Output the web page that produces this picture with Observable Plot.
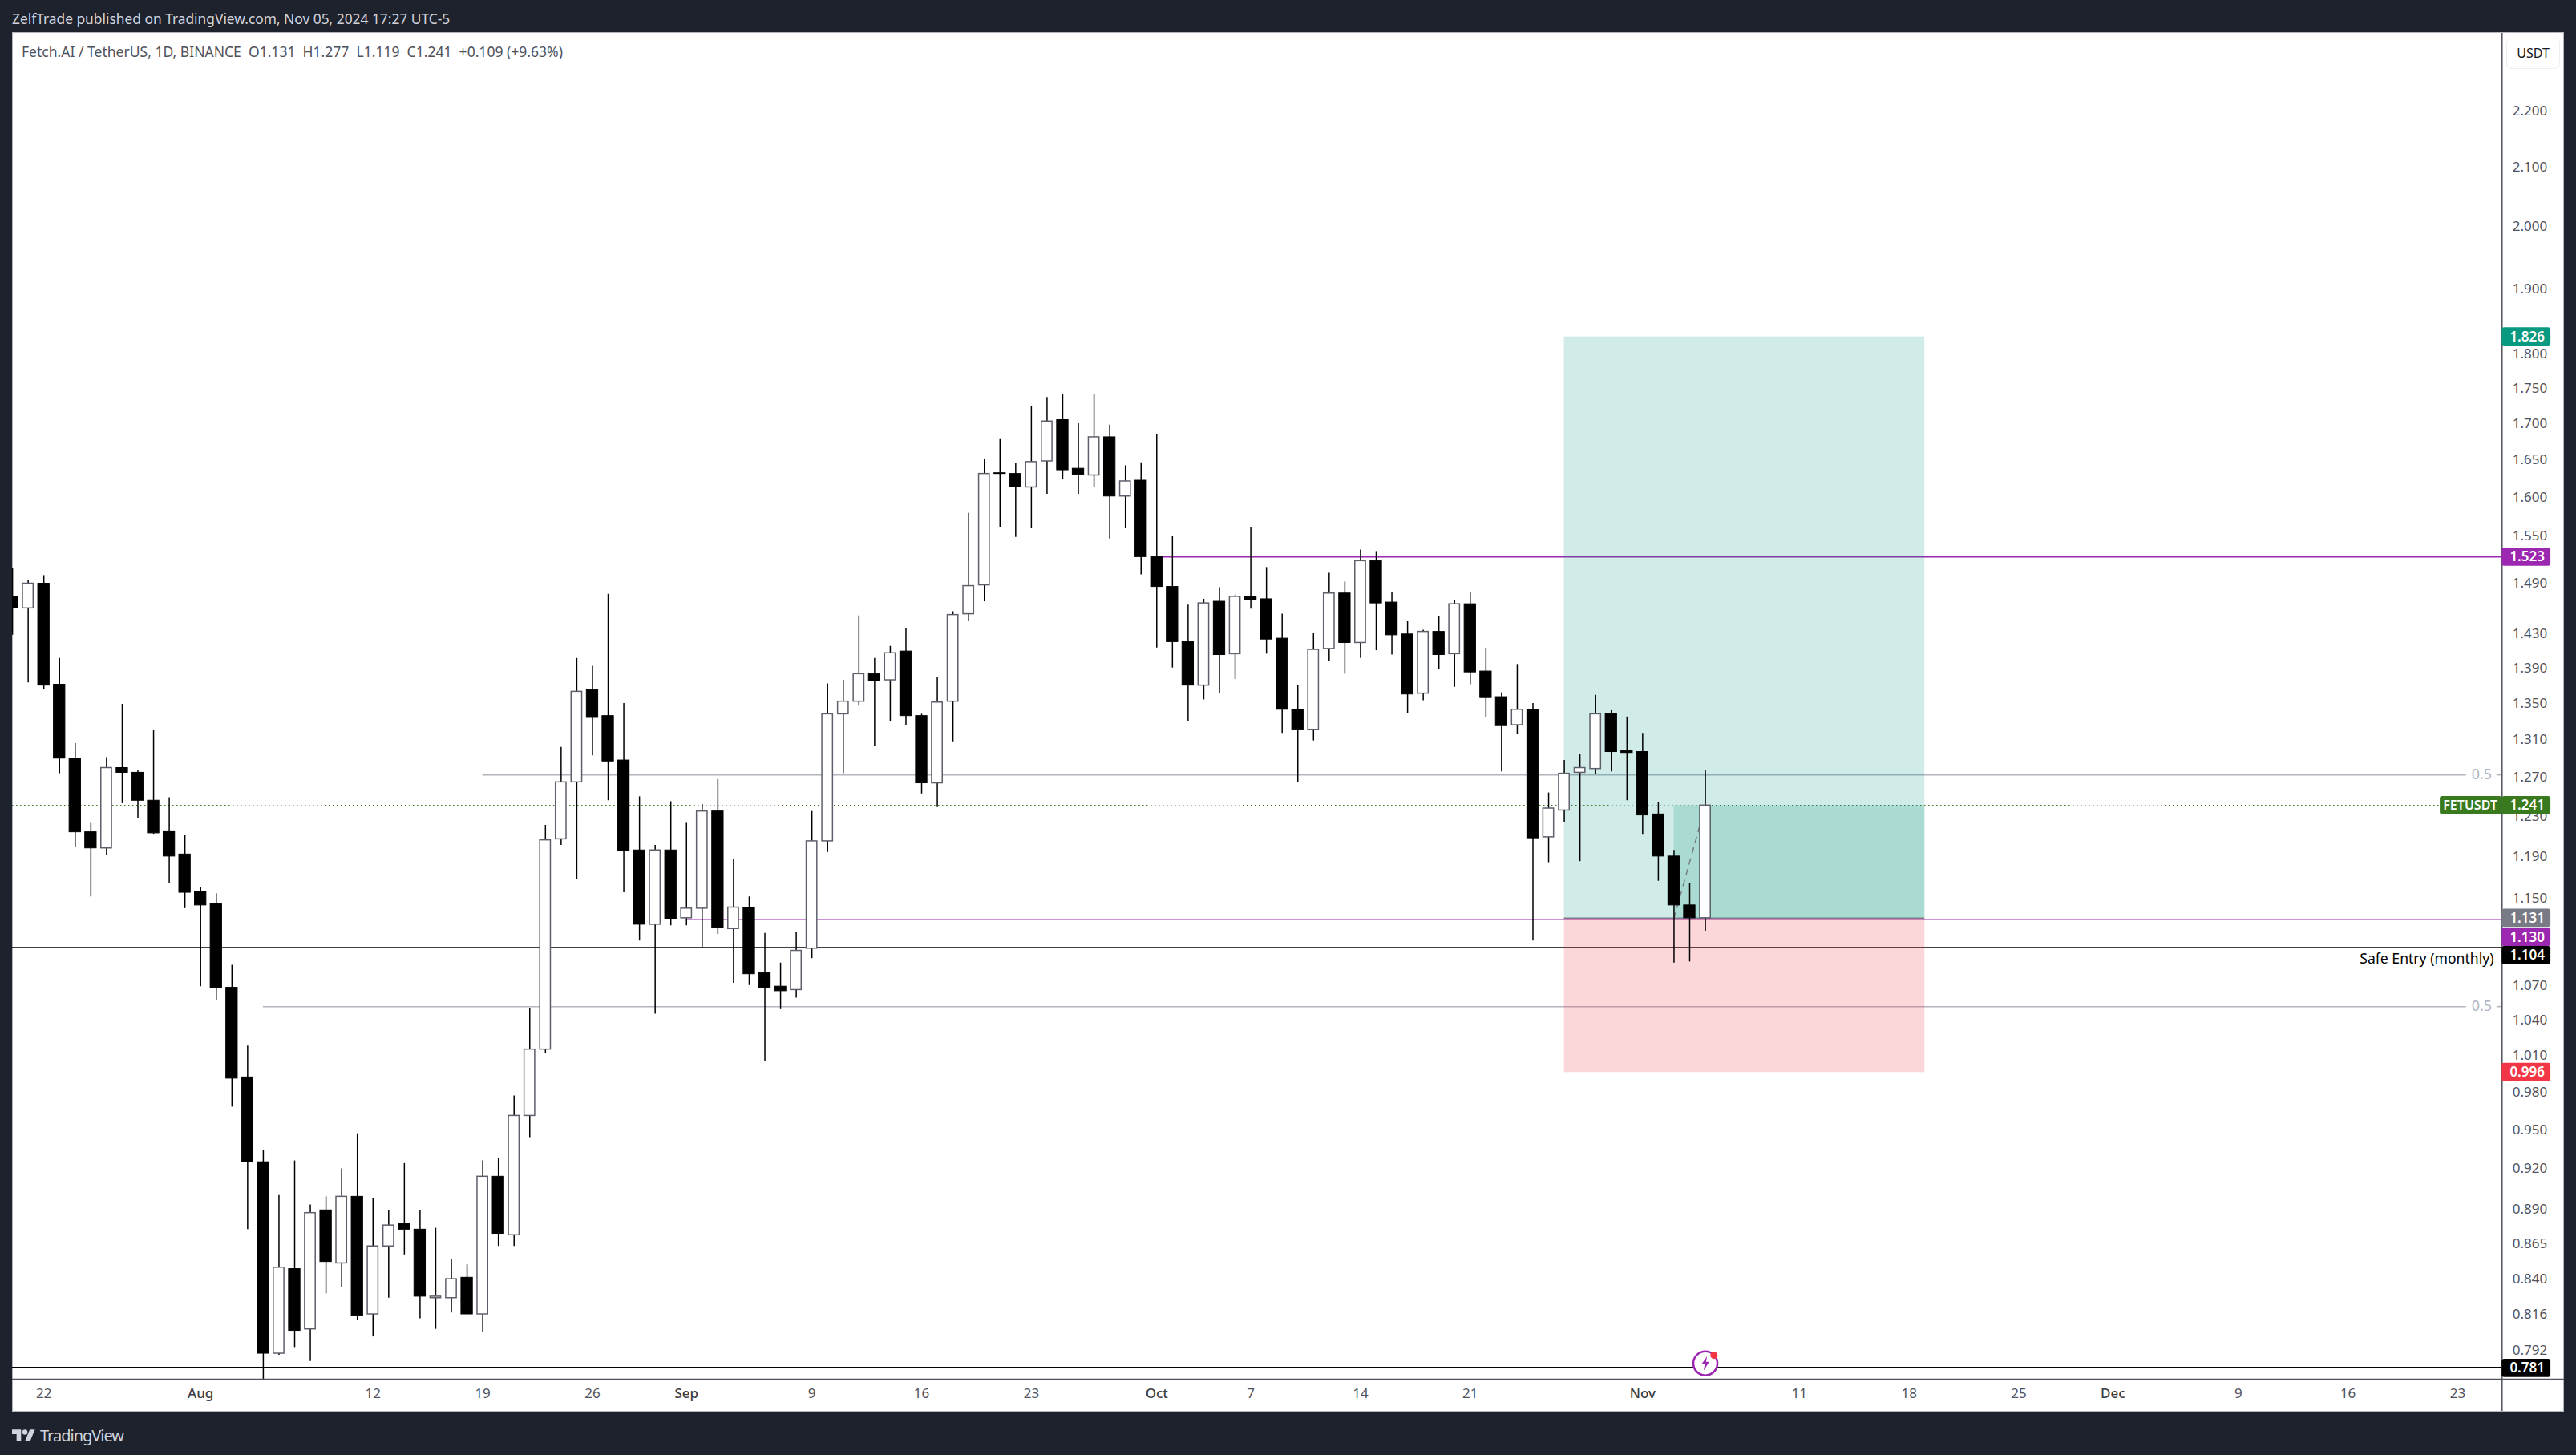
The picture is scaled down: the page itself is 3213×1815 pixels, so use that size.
<!DOCTYPE html>
<html><head><meta charset="utf-8">
<script src="https://cdn.jsdelivr.net/npm/d3@7"></script>
<script src="https://cdn.jsdelivr.net/npm/@observablehq/plot@0.6"></script>
<style>
html,body{margin:0;padding:0;background:#1e222d;width:3213px;height:1815px;overflow:hidden;font-family:"Noto Sans",sans-serif}
#card{position:absolute;left:15px;top:40px;width:3181px;height:1719px;background:#fff;border:1px solid #b2b5be}
#chart{position:absolute;left:15px;top:40px}
#pub{position:absolute;left:15px;top:10px;font-size:17.35px;line-height:26px;color:#d1d4dc;white-space:pre}
#legend{position:absolute;left:27px;top:51px;font-size:17.55px;line-height:26px;color:#4f525b;white-space:pre}
#usdt{position:absolute;left:3126px;top:47px;width:65px;height:37px;border:1px solid #eceef2;border-radius:7px;text-align:center;line-height:37px;font-size:16px;color:#131722;background:#fff}
#brand{position:absolute;left:15px;top:1776px;height:28px;display:flex;align-items:center;color:#d1d4dc;font-size:20px;letter-spacing:-1px}
#brand svg{width:29px;height:15px;margin-right:6px;fill:#d1d4dc}
</style></head><body>
<div id="card"></div>
<div id="chart"></div>
<div id="pub">ZelfTrade published on TradingView.com, Nov 05, 2024 17:27 UTC-5</div>
<div id="legend">Fetch.AI / TetherUS, 1D, BINANCE  O1.131  H1.277  L1.119  C1.241  +0.109 (+9.63%)</div>
<div id="usdt">USDT</div>
<div id="brand"><svg viewBox="0 4 36 18"><path d="M14 22H7V11H0V4h14v18zM28 22h-8l7.5-18h8L28 22z"/><circle cx="20" cy="8" r="4"/></svg><span>TradingView</span></div>
<script>
// Daily FET/USDT candles, first bar 2024-07-20
const opens = [1.474,1.460,1.490,1.371,1.290,1.214,1.198,1.280,1.275,1.246,1.215,1.192,
1.156,1.144,1.068,.992,.925,.790,.847,.806,.889,.851,.899,.816,.863,.879,.875,.827,.827,.841,.816,.914,.871,.961,1.015,1.207,1.265,1.365,1.336,1.288,1.196,1.125,1.196,
1.131,1.140,1.235,1.121,1.141,1.081,1.069,1.066,1.103,1.205,1.338,1.352,1.383,1.376,1.409,1.336,1.264,1.352,1.453,1.488,1.632,1.631,1.613,1.648,1.705,1.638,1.629,1.681,1.601,1.622,
1.523,1.486,1.420,1.370,1.468,1.406,1.474,1.471,1.424,1.343,1.321,1.412,1.478,1.419,1.518,1.467,1.429,1.361,1.432,1.406,1.465,1.386,1.357,1.326,1.343,1.209,1.236,1.275,1.279,1.338,1.298,
1.297,1.232,1.190,1.143,1.131];
const highs = [1.509,1.494,1.500,1.401,1.306,1.223,1.291,1.349,1.277,1.320,1.249,1.211,
1.160,1.154,1.088,1.018,.934,.900,.926,.893,.899,.920,.947,.898,.889,.924,.889,.876,.854,.850,.926,.928,.977,1.050,1.221,1.302,1.401,1.392,1.477,1.350,1.250,1.201,1.245,
1.223,1.242,1.268,1.187,1.151,1.117,1.090,1.118,1.235,1.372,1.376,1.451,1.401,1.415,1.436,1.338,1.379,1.456,1.579,1.651,1.679,1.645,1.724,1.737,1.741,1.700,1.742,1.698,1.642,1.646,
1.685,1.549,1.464,1.471,1.485,1.476,1.561,1.510,1.453,1.370,1.430,1.503,1.492,1.532,1.530,1.479,1.444,1.434,1.450,1.470,1.479,1.413,1.362,1.394,1.350,1.254,1.288,1.294,1.359,1.342,1.335,
1.317,1.244,1.196,1.164,1.277];
const lows = [1.428,1.373,1.366,1.274,1.199,1.151,1.191,1.243,1.228,1.212,1.164,1.140,
1.069,1.057,.968,.875,.771,.789,.794,.785,.830,.834,.812,.801,.827,.857,.813,.806,.817,.816,.804,.863,.863,.944,1.012,1.201,1.168,1.293,1.246,1.155,1.110,1.045,1.124,
1.124,1.104,1.116,1.072,1.070,1.005,1.049,1.059,1.094,1.194,1.274,1.347,1.303,1.330,1.326,1.253,1.239,1.308,1.444,1.468,1.561,1.548,1.559,1.604,1.623,1.604,1.613,1.546,1.559,1.501,
1.413,1.390,1.330,1.354,1.361,1.377,1.459,1.406,1.317,1.265,1.309,1.398,1.383,1.401,1.410,1.405,1.339,1.353,1.388,1.368,1.371,1.334,1.276,1.316,1.110,1.184,1.224,1.185,1.273,1.276,1.246,
1.212,1.166,1.090,1.091,1.119];
const closes = [1.460,1.490,1.370,1.290,1.214,1.198,1.280,1.275,1.246,1.213,1.190,1.155,
1.143,1.068,.991,.925,.790,.848,.805,.887,.852,.899,.815,.863,.878,.875,.828,.828,.840,.816,.914,.872,.961,1.015,1.206,1.265,1.363,1.334,1.287,1.195,1.125,1.196,1.130,
1.140,1.235,1.122,1.141,1.080,1.068,1.065,1.101,1.205,1.338,1.352,1.383,1.375,1.407,1.336,1.264,1.351,1.452,1.487,1.631,1.631,1.613,1.647,1.703,1.636,1.630,1.681,1.601,1.621,1.523,
1.486,1.420,1.370,1.466,1.405,1.474,1.470,1.423,1.343,1.321,1.411,1.478,1.419,1.518,1.466,1.428,1.360,1.432,1.405,1.465,1.385,1.356,1.325,1.343,1.208,1.238,1.274,1.280,1.338,1.297,1.296,
1.231,1.190,1.143,1.131,1.241];

const yTicks = [2.2,2.1,2.0,1.9,1.8,1.75,1.7,1.65,1.6,1.55,1.49,1.43,1.39,1.35,1.31,1.27,1.23,1.19,1.15,1.07,1.04,1.01,.98,.95,.92,.89,.865,.84,.816,.792];
const dayTicks = ["2024-07-22","2024-08-12","2024-08-19","2024-08-26","2024-09-09","2024-09-16","2024-09-23","2024-10-07","2024-10-14","2024-10-21","2024-11-11","2024-11-18","2024-11-25","2024-12-09","2024-12-16","2024-12-23"];
const monthTicks = ["2024-08-01","2024-09-01","2024-10-01","2024-11-01","2024-12-01"];
const priceTags = [
  {text:"1.826",price:1.826,color:"#089981",shift:0},
  {text:"1.523",price:1.523,color:"#9c27b0",shift:0},
  {text:"1.241",price:1.241,color:"#3a7a1e",shift:0},
  {text:"1.131",price:1.131,color:"#787b86",shift:0},
  {text:"1.130",price:1.130,color:"#9c27b0",shift:22.5},
  {text:"1.104",price:1.104,color:"#000000",shift:10},
  {text:"0.996",price:0.996,color:"#f23645",shift:0},
  {text:"0.781",price:0.781,color:"#000000",shift:1}
];
const target = 1.826, entry = 1.131, stop = 0.996, last = 1.241;
const midHigh = 1.2727, midLow = 1.0515, resistance = 1.523, support = 1.130, safe = 1.104, floorLine = 0.781;

const MS = 864e5, t0 = Date.UTC(2024,6,22);
const at = n => new Date(t0 + n*MS);        // n days after 22 Jul 2024
const D = s => new Date(s + "T00:00:00Z");
const candles = opens.map((o,i)=>({date:at(i-2),o,h:highs[i],l:lows[i],c:closes[i],up:closes[i]>=o}));
const shiftDay = (d,k)=>new Date(+d + k*MS);

const xStart = at(-2.005), xEnd = at(156.83), xCard = at(160.82), xTagEnd = at(159.94), xTagText = at(159.55), xFet = at(152.88), xFetMid = at(154.8);
const xPosL = D("2024-10-27"), xPosR = D("2024-11-19"), xFill = D("2024-11-03"), xNow = D("2024-11-05");
const yTop = 2.34502, yBottom = 0.77349, yCardBottom = 0.7533;
const tagPad = 1.00756;

const axisCol = "#50535e", textCol = "#50535e", midCol = "#b2b5be";

const marks = [
  // horizontal levels, behind everything
  Plot.ruleY([last],{x1:xStart,x2:xFet,stroke:"#3a7a1e",strokeWidth:1.5,strokeDasharray:"1.5 3.5"}),
  Plot.ruleY([midHigh],{x1:D("2024-08-19"),x2:at(154.55),stroke:midCol,strokeWidth:1.5}),
  Plot.ruleY([midHigh],{x1:at(156.5),x2:xEnd,stroke:midCol,strokeWidth:1.5}),
  Plot.ruleY([midLow],{x1:D("2024-08-05"),x2:at(154.55),stroke:midCol,strokeWidth:1.5}),
  Plot.ruleY([midLow],{x1:at(156.5),x2:xEnd,stroke:midCol,strokeWidth:1.5}),
  Plot.ruleY([resistance],{x1:D("2024-10-01"),x2:xEnd,stroke:"#9c27b0",strokeWidth:1.5}),
  Plot.ruleY([support],{x1:D("2024-09-01"),x2:xEnd,stroke:"#9c27b0",strokeWidth:1.5}),
  Plot.ruleY([safe],{x1:xStart,x2:xEnd,stroke:"#000",strokeWidth:1.5}),
  Plot.ruleY([floorLine],{x1:xStart,x2:xEnd,stroke:"#000",strokeWidth:1.5}),
  // long position tool
  Plot.rect([{a:entry,b:target}],{x1:()=>xPosL,x2:()=>xPosR,y1:"a",y2:"b",fill:"#089981",fillOpacity:.186}),
  Plot.rect([{a:stop,b:entry}],{x1:()=>xPosL,x2:()=>xPosR,y1:"a",y2:"b",fill:"#f23645",fillOpacity:.2}),
  Plot.rect([{a:entry,b:last}],{x1:()=>xFill,x2:()=>xPosR,y1:"a",y2:"b",fill:"#089981",fillOpacity:.2}),
  Plot.ruleY([entry],{x1:xPosL,x2:xPosR,stroke:"#787b86",strokeWidth:1.5}),
  Plot.line([{d:xFill,p:entry},{d:xNow,p:last}],{x:"d",y:"p",stroke:"#787b86",strokeWidth:1.5,strokeDasharray:"7 7"}),
  // candles
  Plot.ruleX(candles,{x:"date",y1:"l",y2:"h",stroke:"#000",strokeWidth:1.5,clip:"frame"}),
  Plot.rect(candles.filter(d=>!d.up),{x1:d=>shiftDay(d.date,-.365),x2:d=>shiftDay(d.date,.365),y1:"o",y2:"c",fill:"#000",stroke:"#000",strokeWidth:1,clip:"frame"}),
  Plot.rect(candles.filter(d=>d.up),{x1:d=>shiftDay(d.date,-.34),x2:d=>shiftDay(d.date,.34),y1:"o",y2:"c",fill:"#fff",stroke:"#5d606b",strokeWidth:1.5,clip:"frame"}),
  // annotations
  Plot.text(["0.5"],{x:()=>at(155.53),y:()=>midHigh,text:d=>d,fill:midCol,fontSize:18}),
  Plot.text(["0.5"],{x:()=>at(155.53),y:()=>midLow,text:d=>d,fill:midCol,fontSize:18}),
  Plot.text(["Safe Entry (monthly)"],{x:()=>at(156.3),y:()=>safe,dy:14,text:d=>d,textAnchor:"end",fill:"#000",fontSize:17.6}),
  // flash marker
  Plot.dot([floorLine],{x:()=>xNow,y:()=>0.7837,r:15,fill:"#fff",stroke:"#9c27b0",strokeWidth:2.5,clip:null}),
  Plot.dot([floorLine],{x:()=>xNow,y:()=>0.7837,r:9,fill:"#9c27b0",symbol:{draw(ctx,size){const s=Math.sqrt(size/Math.PI);const p=[[.25,-1],[-.55,.15],[-.08,.15],[-.25,1],[.55,-.2],[.08,-.2]];ctx.moveTo(p[0][0]*s,p[0][1]*s);for(const q of p.slice(1))ctx.lineTo(q[0]*s,q[1]*s);ctx.closePath();}}}),
  Plot.dot([floorLine],{x:()=>at(106.55),y:()=>0.7837,dy:-10,r:4.5,fill:"#f23645"}),
  // axes
  Plot.axisY({anchor:"right",ticks:yTicks,tickSize:0,tickPadding:13,textAnchor:"start",tickFormat:d3.format(".3f"),fill:textCol,fontSize:17,label:null}),
  Plot.axisX({ticks:dayTicks.map(D),tickSize:0,tickPadding:11,tickFormat:d3.utcFormat("%-d"),fill:textCol,fontSize:17,label:null}),
  Plot.axisX({ticks:monthTicks.map(D),tickSize:0,tickPadding:11,tickFormat:d3.utcFormat("%b"),fill:"#3a3d45",fontSize:17,fontWeight:500,label:null}),
  Plot.ruleX([xEnd],{y1:yTop,y2:yCardBottom,stroke:axisCol,strokeWidth:1.5}),
  Plot.ruleY([yBottom],{x1:xStart,x2:xCard,stroke:axisCol,strokeWidth:1.5}),
];
// price tags sitting on the right axis
for (const tag of priceTags) {
  marks.push(Plot.rect([tag],{x1:()=>xEnd,x2:()=>xTagEnd,y1:d=>d.price/tagPad,y2:d=>d.price*tagPad,fill:"color",rx:3,dy:tag.shift}));
  marks.push(Plot.text([tag],{x:()=>xTagText,y:"price",text:"text",fill:"#fff",fontSize:17,fontWeight:600,textAnchor:"end",dy:tag.shift}));
}
marks.push(Plot.rect([last],{x1:()=>xFet,x2:()=>xEnd,y1:d=>d/tagPad,y2:d=>d*tagPad,fill:"#3a7a1e",rx:3}));
marks.push(Plot.text(["FETUSDT"],{x:()=>xFetMid,y:()=>last,text:d=>d,fill:"#fff",fontSize:16,fontWeight:600}));

const svg = Plot.plot({
  width:3183,height:1720,marginLeft:0,marginRight:77.7,marginTop:1,marginBottom:40,
  style:{background:"transparent",fontFamily:'"Noto Sans",sans-serif',overflow:"visible"},
  x:{type:"utc",domain:[xStart,xEnd],axis:null},
  y:{type:"log",domain:[yBottom,yTop],axis:null},
  marks
});
document.getElementById("chart").appendChild(svg);
</script>
</body></html>
